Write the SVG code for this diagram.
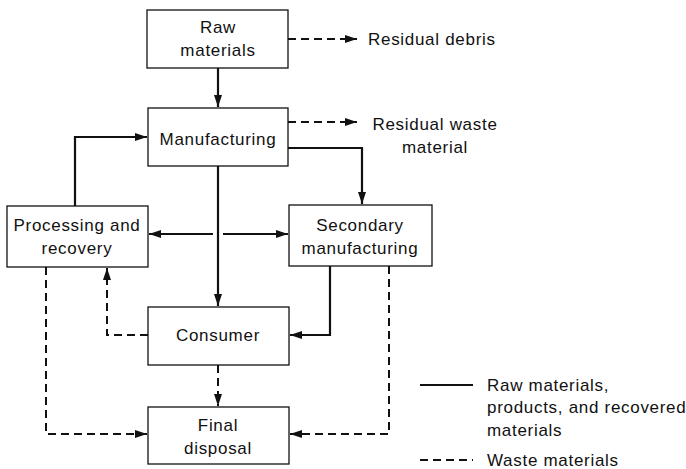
<svg xmlns="http://www.w3.org/2000/svg" width="686" height="469" viewBox="0 0 686 469">
<style>
.box{fill:#fff;stroke:#111;stroke-width:1.3}
.t{font-family:"Liberation Sans",Arial,sans-serif;font-size:17px;letter-spacing:0.7px;fill:#111;text-anchor:middle}
.l{text-anchor:start}
.s{fill:none;stroke:#111;stroke-width:2.2}
.d{fill:none;stroke:#111;stroke-width:2;stroke-dasharray:8,5}
</style>
<defs>
<marker id="ah" viewBox="0 0 12 8" refX="12" refY="4" markerWidth="12" markerHeight="8" markerUnits="userSpaceOnUse" orient="auto">
<path d="M0,0 L12,4 L0,8 Z" fill="#111"/>
</marker>
</defs>
<g id="connectors">
<line class="d" x1="288" y1="39" x2="357" y2="39" marker-end="url(#ah)"/>
<line class="s" x1="218" y1="68" x2="218" y2="107" marker-end="url(#ah)"/>
<line class="d" x1="288" y1="122" x2="357" y2="122" marker-end="url(#ah)"/>
<polyline class="s" points="288,148 362,148 362,204" marker-end="url(#ah)"/>
<polyline class="s" points="75,206 75,137 147,137" marker-end="url(#ah)"/>
<line class="s" x1="218" y1="166" x2="218" y2="306" marker-end="url(#ah)"/>
<line class="s" x1="213" y1="234" x2="149" y2="234" marker-end="url(#ah)"/>
<line class="s" x1="223" y1="234" x2="288" y2="234" marker-end="url(#ah)"/>
<polyline class="d" points="148,335 107,335 107,268" marker-end="url(#ah)"/>
<line class="d" x1="218" y1="365" x2="218" y2="406" marker-end="url(#ah)"/>
<polyline class="d" points="46,267 46,434 147,434" marker-end="url(#ah)"/>
<polyline class="s" points="330,266 330,335 290,335" marker-end="url(#ah)"/>
<polyline class="d" points="389,266 389,434 290,434" marker-end="url(#ah)"/>
</g>
<g id="raw-materials">
<rect class="box" x="147" y="10" width="141" height="58"/>
<text class="t" x="218" y="33">Raw</text>
<text class="t" x="218" y="56">materials</text>
</g>
<g id="residual-debris">
<text class="t l" x="368" y="45">Residual debris</text>
</g>
<g id="manufacturing">
<rect class="box" x="148" y="108" width="140" height="58"/>
<text class="t" x="218" y="145">Manufacturing</text>
</g>
<g id="residual-waste">
<text class="t" x="435" y="130">Residual waste</text>
<text class="t" x="435" y="153">material</text>
</g>
<g id="processing">
<rect class="box" x="7" y="206" width="141" height="61"/>
<text class="t" x="77" y="231">Processing and</text>
<text class="t" x="77" y="254">recovery</text>
</g>
<g id="secondary">
<rect class="box" x="289" y="205" width="143" height="61"/>
<text class="t" x="360" y="231">Secondary</text>
<text class="t" x="360" y="254">manufacturing</text>
</g>
<g id="consumer">
<rect class="box" x="148" y="307" width="141" height="58"/>
<text class="t" x="218" y="341">Consumer</text>
</g>
<g id="final-disposal">
<rect class="box" x="148" y="407" width="141" height="57"/>
<text class="t" x="218" y="431">Final</text>
<text class="t" x="218" y="454">disposal</text>
</g>
<g id="legend">
<line class="s" x1="420" y1="385" x2="473" y2="385"/>
<text class="t l" x="487" y="391">Raw materials,</text>
<text class="t l" x="487" y="413">products, and recovered</text>
<text class="t l" x="487" y="436">materials</text>
<line class="d" x1="420" y1="460" x2="473" y2="460" stroke-dasharray="9,5"/>
<text class="t l" x="487" y="466">Waste materials</text>
</g>
</svg>
